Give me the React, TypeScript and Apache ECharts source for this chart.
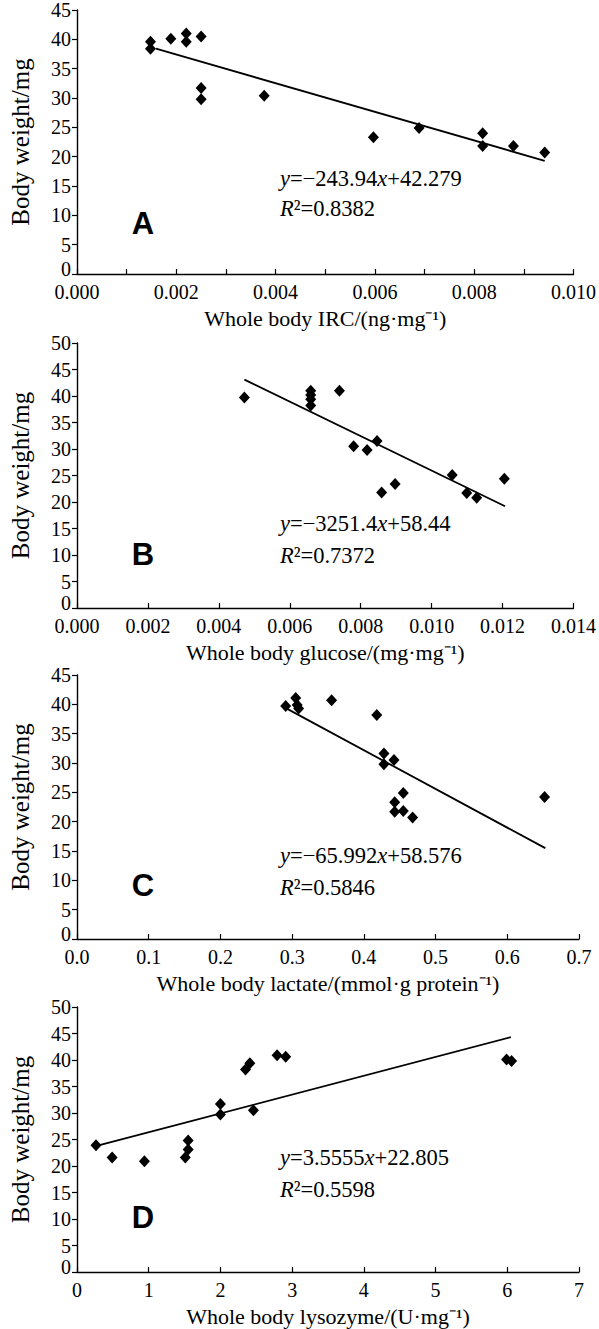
import React, { useEffect, useRef } from "react";
import * as echarts from "echarts";

// ---- Data ----
const xA = [0.00148, 0.00148, 0.00189, 0.0022, 0.0022, 0.0025, 0.0025, 0.0025, 0.00377, 0.00597, 0.00689, 0.00817, 0.00817, 0.00879, 0.00942];
const yA = [39.6, 38.4, 40.1, 41.0, 39.6, 40.5, 31.7, 29.8, 30.4, 23.3, 24.9, 24.0, 21.8, 21.8, 20.7];

const xB = [0.00472, 0.00659, 0.00659, 0.00659, 0.00659, 0.0074, 0.0078, 0.00818, 0.00846, 0.00859, 0.00897, 0.01058, 0.01099, 0.01127, 0.01205];
const yB = [39.7, 41.0, 40.2, 39.4, 38.2, 41.0, 30.5, 29.8, 31.5, 21.8, 23.4, 25.1, 21.7, 20.8, 24.4];

const xC = [0.291, 0.305, 0.307, 0.309, 0.355, 0.418, 0.428, 0.428, 0.442, 0.455, 0.443, 0.443, 0.455, 0.468, 0.652];
const yC = [39.7, 41.1, 39.9, 39.3, 40.7, 38.2, 31.6, 29.8, 30.5, 24.9, 23.3, 21.7, 21.8, 20.7, 24.2];

const xD = [0.265, 0.49, 0.94, 1.51, 1.55, 1.55, 2.0, 2.0, 2.35, 2.41, 2.46, 2.79, 2.91, 5.99, 6.06];
const yD = [23.9, 21.6, 20.9, 21.6, 23.1, 24.8, 31.7, 29.7, 38.2, 39.4, 30.5, 40.9, 40.6, 40.1, 39.8];

// Fitted lines, in plotted axis units: y = slope * x + intercept
const fitSlopes = [-2439.4, -3251.4, -65.992, 3.5555];
const fitIntercepts = [42.279, 58.44, 58.576, 22.805];
const fitRanges = [
  [0.00159, 0.00942],
  [0.00472, 0.01207],
  [0.29, 0.653],
  [0.3, 6.05],
];

const equations = [
  "{i|y}=−243.94{i|x}+42.279",
  "{i|y}=−3251.4{i|x}+58.44",
  "{i|y}=−65.992{i|x}+58.576",
  "{i|y}=3.5555{i|x}+22.805",
];
const r2Texts = ["0.8382", "0.7372", "0.5846", "0.5598"];
const panelLetters = ["A", "B", "C", "D"];

const xNames = [
  "Whole body IRC/(ng·mg⁻¹)",
  "Whole body glucose/(mg·mg⁻¹)",
  "Whole body lactate/(mmol·g protein⁻¹)",
  "Whole body lysozyme/(U·mg⁻¹)",
];
const yName = "Body weight/mg";

const xMax = [0.01, 0.014, 0.7, 7];
const xInterval = [0.001, 0.002, 0.1, 1];
const xDecimals = [3, 3, 1, 0];
const yMax = [45, 50, 45, 50];
const yInterval = 5;

// ---- Layout ----
const gridTops = [10, 343, 675, 1007];
const gridHeights = [264, 265, 264, 265];
const gridLeft = 75;
const gridWidth = 504;
const eqOffsets = [
  [96, 66],
  [85, 53],
  [84, 52],
  [115, 83],
];
const letterOffsets = [51, 54, 54, 55];

const SERIF = '"Liberation Serif", "Times New Roman", serif';
const EQ_SIZE = 22.5;
const TICK_SIZE = 20;

function buildOption() {
  const xs = [xA, xB, xC, xD];
  const ys = [yA, yB, yC, yD];
  const grid: any[] = [];
  const xAxis: any[] = [];
  const yAxis: any[] = [];
  const series: any[] = [];
  const graphic: any[] = [];

  for (let i = 0; i < 4; i++) {
    grid.push({ left: gridLeft, top: gridTops[i], width: gridWidth, height: gridHeights[i] });
    xAxis.push({
      type: "value",
      gridIndex: i,
      min: 0,
      max: xMax[i],
      interval: xInterval[i],
      name: xNames[i],
      nameLocation: "middle",
      nameGap: 33,
      nameTextStyle: { fontFamily: SERIF, fontSize: 22, color: "#000" },
      axisLine: { lineStyle: { color: "#000", width: 1.4 } },
      axisTick: { inside: true, length: 5, lineStyle: { color: "#000", width: 1.2 } },
      axisLabel: {
        fontFamily: SERIF,
        fontSize: TICK_SIZE,
        color: "#000",
        margin: 8,
        showMinLabel: true,
        showMaxLabel: true,
        formatter: (v: number) => {
          if (i === 0 && Math.round(v * 1000) % 2 === 1) return "";
          return v.toFixed(xDecimals[i]);
        },
      },
      splitLine: { show: false },
    });
    yAxis.push({
      type: "value",
      gridIndex: i,
      min: 0,
      max: yMax[i],
      interval: yInterval,
      name: yName,
      nameLocation: "middle",
      nameGap: 44,
      nameTextStyle: { fontFamily: SERIF, fontSize: 25, color: "#000" },
      axisLine: { show: true, lineStyle: { color: "#000", width: 1.4 } },
      axisTick: { show: true, inside: false, length: 5, lineStyle: { color: "#000", width: 1.2 } },
      axisLabel: {
        fontFamily: SERIF,
        fontSize: TICK_SIZE,
        color: "#000",
        margin: 6,
        showMinLabel: true,
        showMaxLabel: true,
        formatter: (v: number) => (v === 0 ? "{z|0}" : String(v)),
        rich: { z: { fontFamily: SERIF, fontSize: TICK_SIZE, color: "#000", padding: [0, 0, 10, 0] } },
      },
      splitLine: { show: false },
    });
    series.push({
      type: "scatter",
      xAxisIndex: i,
      yAxisIndex: i,
      symbol: "diamond",
      symbolSize: [11, 12],
      itemStyle: { color: "#000", opacity: 1 },
      data: xs[i].map((x, k) => [x, ys[i][k]]),
      z: 3,
    });
    const [x0, x1] = fitRanges[i];
    series.push({
      type: "line",
      xAxisIndex: i,
      yAxisIndex: i,
      symbol: "none",
      lineStyle: { color: "#000", width: 1.8 },
      data: [
        [x0, fitSlopes[i] * x0 + fitIntercepts[i]],
        [x1, fitSlopes[i] * x1 + fitIntercepts[i]],
      ],
      z: 2,
    });

    const bottom = gridTops[i] + gridHeights[i];
    graphic.push({
      type: "text",
      x: 280,
      y: bottom - eqOffsets[i][0],
      style: {
        text: equations[i],
        fontFamily: SERIF,
        fontSize: EQ_SIZE,
        fill: "#000",
        verticalAlign: "middle",
        align: "left",
        rich: { i: { fontStyle: "italic", fontFamily: SERIF, fontSize: EQ_SIZE, fill: "#000" } },
      },
    });
    graphic.push({
      type: "text",
      x: 280,
      y: bottom - eqOffsets[i][1],
      style: {
        text: "{i|R}²=" + r2Texts[i],
        fontFamily: SERIF,
        fontSize: EQ_SIZE,
        fill: "#000",
        verticalAlign: "middle",
        align: "left",
        rich: { i: { fontStyle: "italic", fontFamily: SERIF, fontSize: EQ_SIZE, fill: "#000" } },
      },
    });
    graphic.push({
      type: "text",
      x: 143,
      y: bottom - letterOffsets[i],
      style: {
        text: panelLetters[i],
        fontFamily: '"Liberation Sans", Arial, sans-serif',
        fontWeight: "bold",
        fontSize: 31,
        fill: "#000",
        align: "center",
        verticalAlign: "middle",
      },
    });
  }

  return {
    animation: false,
    backgroundColor: "#fff",
    grid,
    xAxis,
    yAxis,
    series,
    graphic,
  };
}

export default function App() {
  const ref = useRef<HTMLDivElement>(null);
  useEffect(() => {
    document.body.style.margin = "0";
    const chart = echarts.init(ref.current!, null, { renderer: "svg" });
    chart.setOption(buildOption() as any);
    return () => chart.dispose();
  }, []);
  return <div ref={ref} style={{ width: 599, height: 1329 }} />;
}
